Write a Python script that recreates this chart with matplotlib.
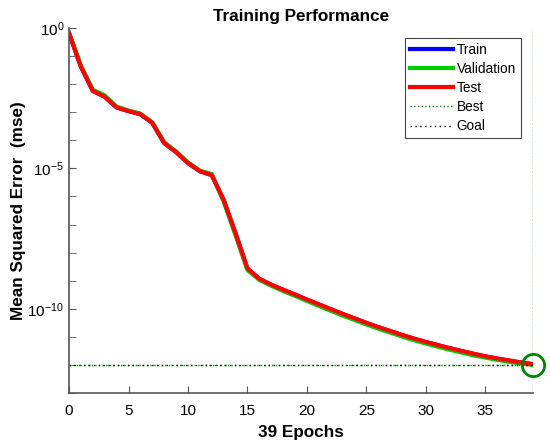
import numpy as np
import matplotlib.pyplot as plt

plt.rcParams['font.family'] = ['Liberation Sans', 'DejaVu Sans']

# performance per epoch, stored as log10(mse)
epochs = list(range(40))
train_log = [-0.19, -1.38, -2.24, -2.45, -2.83, -2.96, -3.07, -3.38, -4.10, -4.42,
             -4.81, -5.10, -5.24, -6.14, -7.33, -8.58, -8.94, -9.15, -9.33, -9.50,
             -9.68, -9.85, -10.02, -10.19, -10.35, -10.51, -10.66, -10.80, -10.94, -11.07,
             -11.19, -11.30, -11.41, -11.51, -11.61, -11.70, -11.78, -11.85, -11.92, -11.98]
val_log = [-0.17, -1.34, -2.20, -2.40, -2.80, -2.94, -3.05, -3.36, -4.07, -4.40,
           -4.79, -5.08, -5.20, -6.18, -7.38, -8.62, -8.97, -9.18, -9.37, -9.54,
           -9.72, -9.90, -10.07, -10.24, -10.40, -10.56, -10.71, -10.85, -10.99, -11.12,
           -11.24, -11.35, -11.46, -11.56, -11.66, -11.74, -11.82, -11.89, -11.95, -12.00]
test_log = [-0.19, -1.38, -2.24, -2.45, -2.83, -2.96, -3.07, -3.38, -4.10, -4.42,
            -4.81, -5.10, -5.24, -6.12, -7.31, -8.56, -8.93, -9.14, -9.32, -9.49,
            -9.67, -9.84, -10.01, -10.18, -10.34, -10.50, -10.65, -10.79, -10.93, -11.06,
            -11.18, -11.29, -11.40, -11.50, -11.60, -11.69, -11.77, -11.84, -11.91, -11.97]
goal = 1e-12
best_epoch = 39

train = [10 ** v for v in train_log]
val = [10 ** v for v in val_log]
test = [10 ** v for v in test_log]
best = val[best_epoch]

fig = plt.figure(figsize=(5.5, 4.48), dpi=100)
ax = fig.add_axes([0.1255, 0.1228, 0.969 - 0.1255, 0.9375 - 0.1228])

ax.semilogy(epochs, train, color=(0, 0, 1), lw=3, label='Train')
ax.semilogy(epochs, val, color=(0, 0.8, 0), lw=3, label='Validation')
ax.semilogy(epochs, test, color=(1, 0, 0), lw=3, label='Test')
ax.axvline(best_epoch, color=(0, 0.6, 0), ls=':', lw=1, label='Best')
ax.axhline(best, color=(0, 0.6, 0), ls=':', lw=1)
ax.axhline(goal, color='black', ls=':', lw=1, label='Goal', dashes=(1, 2.5))
ax.plot(best_epoch, best, 'o', mfc='none', mec=(0, 0.5, 0), ms=16, mew=2, clip_on=False)

ax.set_xlim(0, 39)
ax.set_ylim(1e-13, 1e0)
ax.set_xticks([0, 5, 10, 15, 20, 25, 30, 35])
ax.set_yticks([1e0, 1e-5, 1e-10])
ax.set_yticks([10.0 ** -k for k in range(14)], minor=True)
ax.set_yticklabels([], minor=True)

for s in ['top', 'right']:
    ax.spines[s].set_visible(False)
for s in ['left', 'bottom']:
    ax.spines[s].set_color('#555555')
    ax.spines[s].set_linewidth(1.2)
ax.tick_params(which='both', direction='in', color='#555555', labelsize=11,
               top=False, right=False, length=5)
ax.tick_params(axis='x', pad=8)

ax.set_title('Training Performance', fontsize=12.3, fontweight='bold', pad=5)
ax.set_xlabel('39 Epochs', fontsize=12.3, fontweight='bold', labelpad=5)
ax.set_ylabel('Mean Squared Error  (mse)', fontsize=12.3, fontweight='bold', labelpad=1)

leg = ax.legend(loc='upper right', bbox_to_anchor=(0.974, 0.973), borderaxespad=0,
                fontsize=9.8, handlelength=3.2, handletextpad=0.25, labelspacing=0.38,
                borderpad=0.35, fancybox=False, edgecolor='#444444', framealpha=1)
leg.get_frame().set_linewidth(0.8)

fig.savefig('out.png', dpi=100)
